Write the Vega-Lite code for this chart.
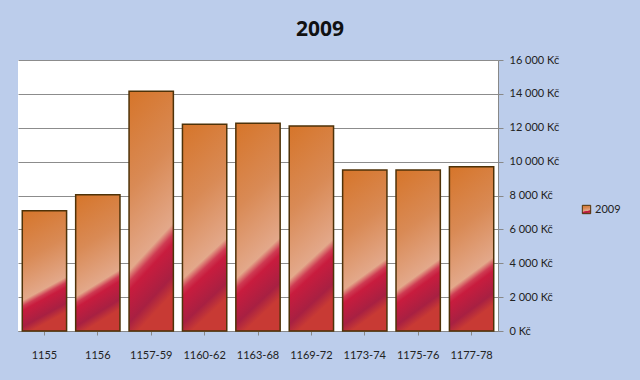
{
  "$schema": "https://vega.github.io/schema/vega-lite/v6.json",
  "autosize": {"type": "none"},
  "width": 480,
  "height": 271,
  "padding": {"left": 18, "top": 60, "right": 142, "bottom": 49},
  "background": "#bccdeb",
  "config": {
    "font": "Lato",
    "view": {"fill": "white", "stroke": null}
  },
  "title": {
    "text": "2009",
    "fontSize": 21,
    "fontWeight": "bold",
    "font": "Open Sans",
    "color": "#111111",
    "anchor": "middle",
    "frame": "group",
    "dx": 62,
    "offset": 14
  },
  "data": {
    "values": [
      {"obdobi": "1155", "castka": 7100, "rok": "2009"},
      {"obdobi": "1156", "castka": 8050, "rok": "2009"},
      {"obdobi": "1157-59", "castka": 14150, "rok": "2009"},
      {"obdobi": "1160-62", "castka": 12200, "rok": "2009"},
      {"obdobi": "1163-68", "castka": 12270, "rok": "2009"},
      {"obdobi": "1169-72", "castka": 12100, "rok": "2009"},
      {"obdobi": "1173-74", "castka": 9500, "rok": "2009"},
      {"obdobi": "1175-76", "castka": 9500, "rok": "2009"},
      {"obdobi": "1177-78", "castka": 9700, "rok": "2009"}
    ]
  },
  "mark": {
    "type": "bar",
    "strokeWidth": 1.5,
    "fill": {
      "gradient": "linear",
      "x1": 0, "y1": 0, "x2": 0.2, "y2": 1,
      "stops": [
        {"offset": 0, "color": "#d6752a"},
        {"offset": 0.4, "color": "#d98a55"},
        {"offset": 0.72, "color": "#e3a88a"},
        {"offset": 0.765, "color": "#cf3a52"},
        {"offset": 0.8, "color": "#c81c3e"},
        {"offset": 0.93, "color": "#a82042"},
        {"offset": 1, "color": "#c83a34"}
      ]
    }
  },
  "encoding": {
    "x": {
      "field": "obdobi",
      "type": "nominal",
      "sort": null,
      "scale": {"paddingInner": 0.17, "paddingOuter": 0.08},
      "axis": {
        "title": null,
        "labelAngle": 0,
        "labelFontSize": 11,
        "labelColor": "#222222",
        "labelPadding": 14,
        "domainColor": "#888888",
        "tickColor": "#888888",
        "tickSize": 4
      }
    },
    "y": {
      "field": "castka",
      "type": "quantitative",
      "scale": {"domain": [0, 16000]},
      "axis": {
        "orient": "right",
        "title": null,
        "values": [0, 2000, 4000, 6000, 8000, 10000, 12000, 14000, 16000],
        "labelExpr": "replace(format(datum.value, ','), ',', ' ') + ' Kč'",
        "labelFontSize": 11,
        "labelColor": "#222222",
        "labelPadding": 6,
        "domainColor": "#888888",
        "tickColor": "#888888",
        "tickSize": 5,
        "gridColor": "#8c8c8c",
        "gridOpacity": 1
      }
    },
    "stroke": {
      "field": "rok",
      "type": "nominal",
      "scale": {"range": ["#4e3208"]},
      "legend": {
        "title": null,
        "orient": "none",
        "legendX": 563,
        "legendY": 144,
        "symbolType": "square",
        "symbolSize": 70,
        "symbolStrokeWidth": 1,
        "labelFontSize": 11,
        "labelColor": "#222222",
        "labelOffset": 3
      }
    }
  }
}
